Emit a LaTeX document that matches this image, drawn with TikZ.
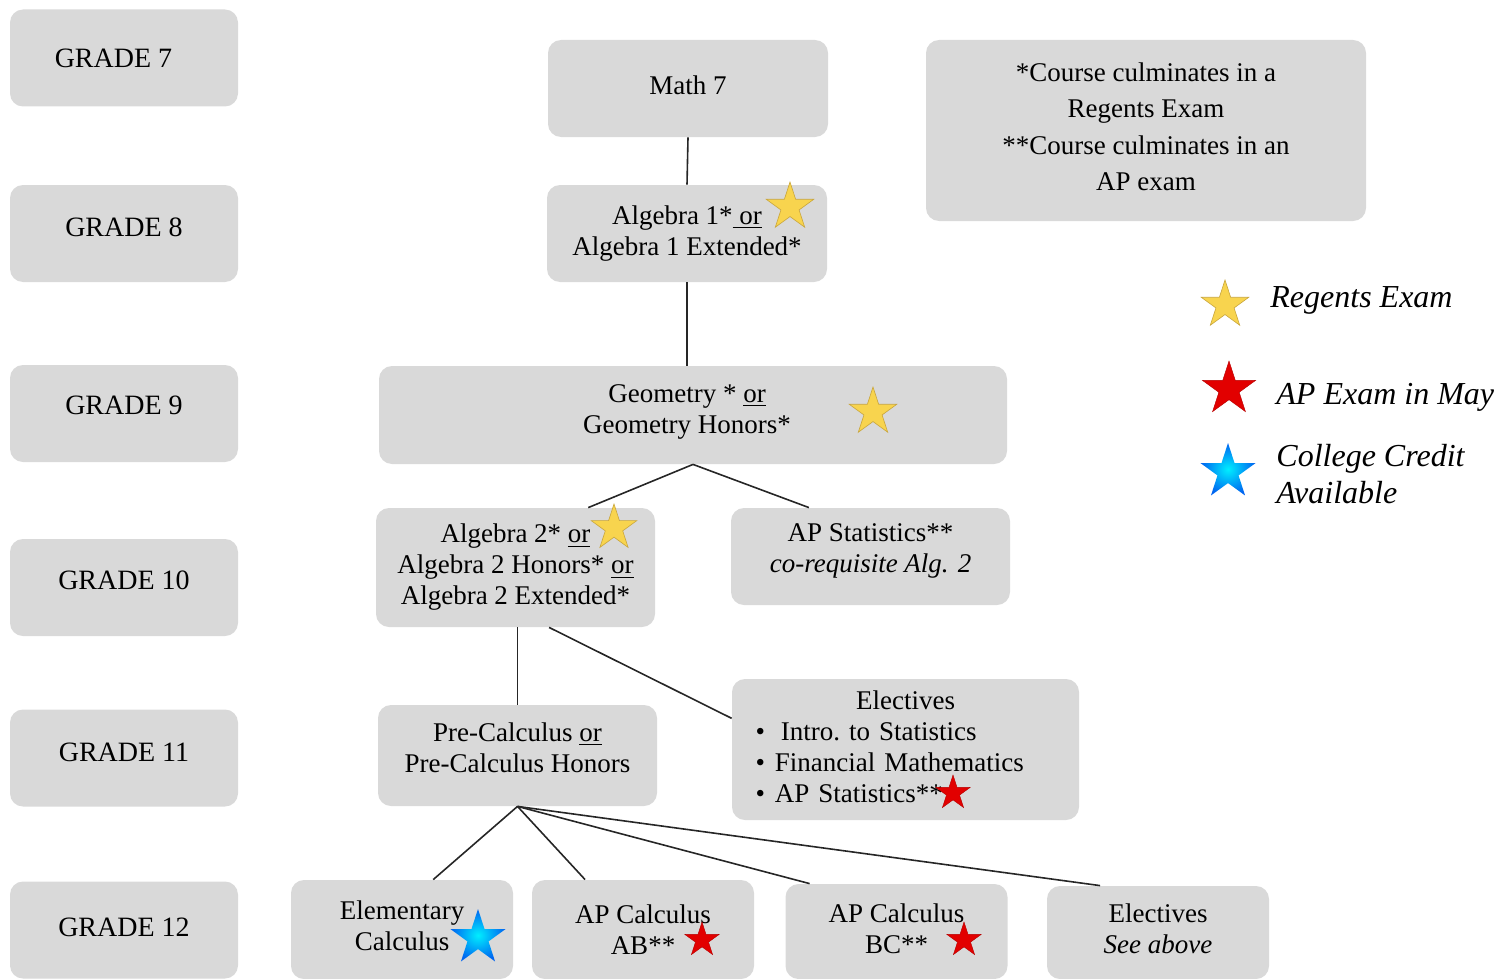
\documentclass[tikz,border=0pt]{standalone}
\usepackage{fontspec}
\setmainfont{Liberation Serif}
\usetikzlibrary{shapes.geometric,calc}
\definecolor{boxgray}{RGB}{217,217,217}
\definecolor{regentsYellow}{RGB}{248,212,78}
\definecolor{regentsEdge}{RGB}{200,165,60}
\definecolor{apRed}{RGB}{226,0,0}
\definecolor{creditCyan}{RGB}{0,238,255}
\definecolor{creditBlue}{RGB}{0,100,240}
\newcommand{\lift}[1]{\rule[-#1]{0pt}{#1}}

\begin{document}
\begin{tikzpicture}[x=0.5pt,y=-0.5pt,
    box/.style={fill=boxgray,rounded corners=6.5pt,align=center,inner sep=2pt,
      font=\fontsize{13.5}{15.5}\selectfont},
    grade/.style={box,minimum width=114pt,minimum height=48.5pt,
      font=\fontsize{14}{16}\selectfont},
    course/.style={box,minimum width=140pt,minimum height=48.5pt},
    calc12/.style={box,minimum width=111pt,minimum height=49.5pt},
    link/.style={line width=0.8pt,draw=black!85},
    anystar/.style={star,star points=5,star point ratio=2.618,inner sep=0pt},
    regents/.style={anystar,fill=regentsYellow,draw=regentsEdge,line width=0.3pt},
    apexam/.style={anystar,fill=apRed,draw=apRed!80!black,line width=0.2pt},
    credit/.style={anystar,shading=radial,inner color=creditCyan,outer color=creditBlue},
    key/.style={anchor=west,inner sep=0pt,align=left,
      font=\fontsize{16}{18.5}\selectfont\itshape}]
    \useasboundingbox (0,0) rectangle (1498,979);
    \clip (0,0) rectangle (1498,979);

    \node (g7) at (124,58) [grade] {GRADE 7\hspace{10.5pt}\null};
    \node (g8) at (124,233.5) [grade] {\lift{6pt}GRADE 8};
    \node (g9) at (124,413.5) [grade] {\lift{8.5pt}GRADE 9};
    \node (g10) at (124,587.5) [grade] {\lift{7pt}GRADE 10};
    \node (g11) at (124,758) [grade] {\lift{6pt}GRADE 11};
    \node (g12) at (124,930) [grade] {\lift{3pt}GRADE 12};

    \node (math7) at (688,88.5) [course] {\lift{3pt}Math 7};
    \node (alg1) at (687,233.5) [course] {Algebra 1*\underline{\ or}\\Algebra 1 Extended*};
    \node (note) at (1146,130.5) [box,minimum width=220pt,minimum height=90.5pt,
      font=\fontsize{13.5}{18.2}\selectfont]
      {*Course culminates in a\\Regents Exam\\**Course culminates in an\\\lift{4pt}AP exam};
    \node (geom) at (693,415) [box,minimum width=314pt,minimum height=49pt]
      {Geometry * \underline{or}\hspace{6pt}\null\\\lift{6pt}Geometry Honors*\hspace{6pt}\null};
    \node (alg2) at (515.5,567.5) [box,minimum width=139.5pt,minimum height=59.5pt]
      {Algebra 2* \underline{or}\\Algebra 2 Honors* \underline{or}\\Algebra 2 Extended*};
    \node (apstat) at (870.5,556.5) [course,minimum width=139.5pt]
      {AP Statistics**\\\lift{8pt}\textit{co-requisite Alg. 2}};
    \node (elec) at (905.5,749.5) [box,minimum width=173.5pt,minimum height=70.5pt,
      text width=150pt,align=left]
      {\makebox[150pt]{Electives}\\
       \textbullet\hspace{5pt}\hspace{3pt}Intro.\ to Statistics\\
       \textbullet\hspace{5pt}Financial Mathematics\\
       \lift{3pt}\textbullet\hspace{5pt}AP Statistics**};
    \node (precalc) at (517.5,755.5) [course,minimum width=139.5pt,minimum height=50.5pt]
      {Pre-Calculus \underline{or}\\\lift{8pt}Pre-Calculus Honors};
    \node (elemcalc) at (402,929.5) [calc12] {Elementary\\\lift{4pt}Calculus};
    \node (calcab) at (643,929.5) [calc12] {AP Calculus\\AB**};
    \node (calcbc) at (896.5,931.5) [calc12,minimum height=47.5pt] {AP Calculus\\\lift{2.5pt}BC**};
    \node (elec12) at (1158,932.5) [calc12,minimum height=46.5pt] {Electives\\\lift{4pt}\textit{See above}};

    \draw[link] (math7.south) -- (alg1.north);
    \draw[link] (alg1.south) -- (alg1.south |- geom.north);
    \draw[link] (geom.south) -- ($(alg2.north west)!0.76!(alg2.north east)$);
    \draw[link] (geom.south) -- ($(apstat.north west)!0.28!(apstat.north east)$);
    \draw[link] (precalc.north |- alg2.south) -- (precalc.north);
    \draw[link] ($(alg2.south west)!0.62!(alg2.south east)$)
      -- ($(elec.north west)!0.28!(elec.south west)$);
    \draw[link] (precalc.south) -- ($(elemcalc.north west)!0.64!(elemcalc.north east)$);
    \draw[link] (precalc.south) -- ($(calcab.north west)!0.24!(calcab.north east)$);
    \draw[link] (precalc.south) -- ($(calcbc.north west)!0.11!(calcbc.north east)$);
    \draw[link] (precalc.south) -- ($(elec12.north west)!0.24!(elec12.north east)$);

    \node (starAlg1) at (790,207) [regents,minimum size=25pt] {};
    \node (starGeom) at (873,412) [regents,minimum size=25pt] {};
    \node (starAlg2) at (614,528) [regents,minimum size=24pt] {};
    \node (starStat) at (953,793) [apexam,minimum size=18pt] {};
    \node (starElem) at (478,938) [credit,minimum size=29pt] {};
    \node (starAB) at (702,940) [apexam,minimum size=18pt] {};
    \node (starBC) at (964,940) [apexam,minimum size=18pt] {};

    \node (keyStarY) at (1225,305) [regents,minimum size=25pt] {};
    \node (keyStarR) at (1229,389) [apexam,minimum size=28pt] {};
    \node (keyStarB) at (1228,472) [credit,minimum size=29pt] {};
    \node (keyRegents) at (1270,300) [key] {Regents Exam};
    \node (keyAP) at (1276,397) [key] {AP Exam in May};
    \node (keyCredit) at (1276,474) [key] {College Credit\\Available};
\end{tikzpicture}
\end{document}
